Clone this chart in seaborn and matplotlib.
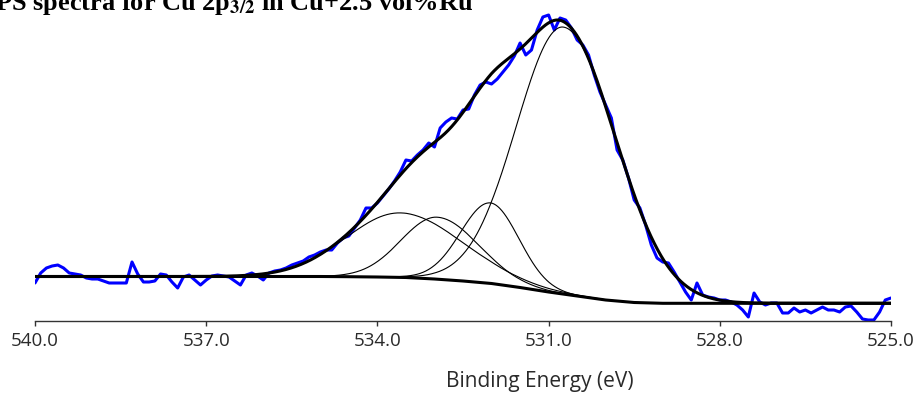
import numpy as np
import pandas as pd
import matplotlib
matplotlib.use("Agg")
import matplotlib.pyplot as plt
import seaborn as sns

# ---------------- data ----------------
# raw XPS counts (a.u.), from 540.0 eV down to 525.0 eV in 0.1 eV steps
raw_counts = [
    38, 48, 53, 55, 56, 53, 48, 47, 46, 43,      # 540.0 - 539.1
    42, 42, 40, 38, 38, 38, 38, 59, 47, 39,      # 539.0 - 538.1
    39, 40, 47, 46, 39, 33, 44, 46, 41, 36,      # 538.0 - 537.1
    41, 45, 46, 45, 44, 40, 36, 46, 48, 45,      # 537.0 - 536.1
    41, 48, 50, 51, 53, 56, 58, 60, 64, 66,      # 536.0 - 535.1
    69, 71, 71, 78, 83, 85, 93, 101, 113, 113,   # 535.0 - 534.1
    118, 125, 132, 140, 149, 161, 160, 166, 171, 178,  # 534.0 - 533.1
    174, 193, 199, 203, 202, 211, 212, 226, 236, 239,  # 533.0 - 532.1
    237, 242, 249, 256, 265, 278, 266, 271, 291, 304,  # 532.0 - 531.1
    306, 291, 303, 301, 293, 281, 276, 266, 246, 229,  # 531.0 - 530.1
    216, 203, 171, 161, 143, 121, 113, 96, 76, 63,     # 530.0 - 529.1
    59, 58, 49, 39, 29, 21, 38, 26, 24, 23,            # 529.0 - 528.1
    21, 21, 19, 16, 11, 4, 28, 19, 16, 18,             # 528.0 - 527.1
    18, 8, 8, 13, 9, 11, 8, 11, 14, 11,                # 527.0 - 526.1
    11, 9, 14, 15, 9, 2, 1, 1, 9, 21,                  # 526.0 - 525.1
    23,                                                # 525.0
]
energy_start = 540.0
energy_step = 0.1

# Shirley background (a.u.)
bg_energy = [540.0, 536.0, 535.0, 534.5, 534.0, 533.5, 533.0, 532.5, 532.0,
             531.5, 531.0, 530.5, 530.0, 529.5, 529.0, 525.0]
bg_counts = [44.5, 44.5, 44.5, 44.3, 44.0, 43.5, 42.0, 40.0, 37.5,
             33.5, 29.0, 25.0, 21.0, 18.5, 17.7, 17.7]

# fitted components: centre (eV), height above background (a.u.),
# width (sigma, eV) on the high- and low-binding-energy sides
comp_center = [533.60, 532.95, 532.02, 530.74]
comp_height = [64.5, 62.0, 80.5, 267.0]
comp_sigma_high = [0.95, 0.63, 0.52, 0.82]
comp_sigma_low = [1.08, 0.72, 0.50, 0.92]

tick_values = [540.0, 537.0, 534.0, 531.0, 528.0, 525.0]
title_text = r"XPS spectra for Cu 2p$_{3/2}$ in Cu+2.5 vol%Ru"
xlabel_text = "Binding Energy (eV)"

# ---------------- build frames ----------------
assert len(raw_counts) == 151, len(raw_counts)
raw_energy = np.round(energy_start - energy_step * np.arange(len(raw_counts)), 1)
raw_df = pd.DataFrame({"energy": raw_energy, "counts": raw_counts})

fine_e = np.linspace(540.0, 525.0, 1501)
bg_fine = np.interp(fine_e, bg_energy[::-1], bg_counts[::-1])
comps = []
for c, h, sh, sl in zip(comp_center, comp_height, comp_sigma_high, comp_sigma_low):
    s = np.where(fine_e >= c, sh, sl)
    comps.append(h * np.exp(-(fine_e - c) ** 2 / (2 * s ** 2)))
envelope = bg_fine + np.sum(comps, axis=0)

# ---------------- plot ----------------
sns.set_theme(style="white")
plt.rcParams["font.family"] = ["Open Sans", "DejaVu Sans"]
plt.rcParams["mathtext.fontset"] = "stix"
plt.rcParams["mathtext.default"] = "bf"

W, H = 922, 397
fig = plt.figure(figsize=(W / 100, H / 100), dpi=100)
ax = fig.add_axes([35 / W, 1 - 321 / H, (891 - 35) / W, 321 / H])

sns.lineplot(data=raw_df, x="energy", y="counts", ax=ax, color="#0000ff",
             linewidth=2.2, estimator=None, zorder=2)
for comp in comps:
    sns.lineplot(x=fine_e, y=bg_fine + comp, ax=ax, color="black",
                 linewidth=0.8, estimator=None, zorder=3)
sns.lineplot(x=bg_energy, y=bg_counts, ax=ax, color="black",
             linewidth=2.2, estimator=None, zorder=4)
sns.lineplot(x=fine_e, y=envelope, ax=ax, color="black",
             linewidth=2.2, estimator=None, zorder=5)

ax.set_xlim(540.0, 525.0)
ax.set_ylim(0, 321)
ax.set_xticks(tick_values)
ax.set_xticklabels([f"{v:.1f}" for v in tick_values])
ax.set_yticks([])
ax.set_ylabel("")
for side in ("top", "right", "left"):
    ax.spines[side].set_visible(False)
ax.spines["bottom"].set_color("#333333")
ax.spines["bottom"].set_linewidth(1.0)
ax.tick_params(axis="x", direction="out", length=3.8, width=1.0,
               color="#333333", pad=4, labelsize=13.5, labelcolor="#2a2a2a",
               bottom=True)
ax.set_xlabel(xlabel_text, fontsize=15, color="#2a2a2a")
ax.xaxis.set_label_coords((540 - 35) / (891 - 35), (321 - 381) / 321)
ax.xaxis.label.set_va("center")

fig.text(473 / W, 1 - 9.8 / H, title_text, ha="right", va="baseline",
         fontsize=19, fontweight="bold", family="Liberation Serif",
         color="black")

fig.savefig("out.png", dpi=100)
